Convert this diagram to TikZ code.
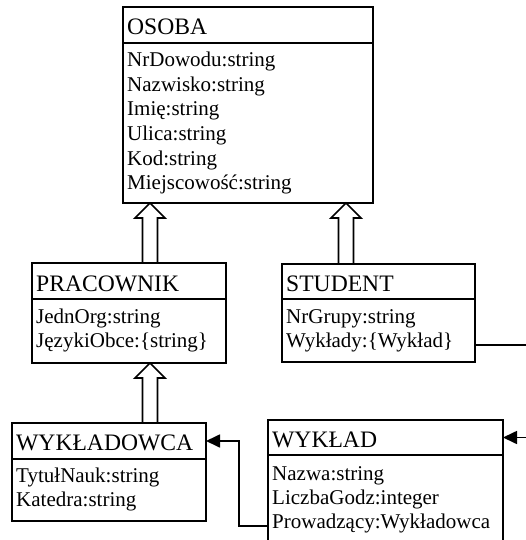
\documentclass[tikz,border=0pt]{standalone}
\usepackage{fontspec}
\setmainfont{Liberation Serif}
\usetikzlibrary{arrows.meta,calc}
\tikzset{
  classbox/.style={draw, line width=1.8pt, anchor=north west, inner sep=0pt, outer sep=0pt},
  ctitle/.style={anchor=base west, inner sep=0pt, font=\fontsize{23.6}{28}\selectfont},
  cattr/.style={anchor=base west, inner sep=0pt, font=\fontsize{21}{24}\selectfont},
  genline/.style={draw, line width=1.7pt, line join=miter},
  assoc/.style={draw, line width=1.7pt, -{Triangle[length=14pt,width=13pt]}},
}
% hollow generalisation arrow: #1 = foot on the subclass, #2 = tip on the superclass
\newcommand\inheritarrow[2]{%
  \draw[genline] ($(#1)+(-7.5,0)$) -- ($(#2)+(-7.5,15)$) -- ($(#2)+(-15,15)$) -- (#2)
    -- ($(#2)+(15,15)$) -- ($(#2)+(7.5,15)$) -- ($(#1)+(7.5,0)$);}
\begin{document}
\begin{tikzpicture}[x=1pt,y=-1pt]
\useasboundingbox (0,0) rectangle (526,540);
\clip (0,0) rectangle (526,540);

% OSOBA
\node[classbox, minimum width=250pt, minimum height=36pt] (osobaT) at (123,7) {};
\node[classbox, minimum width=250pt, minimum height=160pt] (osobaB) at (osobaT.south west) {};
\node[ctitle] (osobaN) at (127,35) {OSOBA};
\foreach \t [count=\i] in {NrDowodu:string, Nazwisko:string, Imię:string, Ulica:string, Kod:string, Miejscowość:string}
  \node[cattr] (osoba-a\i) at ({127},{67+24.5*(\i-1)}) {\t};

% PRACOWNIK
\node[classbox, minimum width=194pt, minimum height=36pt] (pracT) at (32,263) {};
\node[classbox, minimum width=194pt, minimum height=64pt] (pracB) at (pracT.south west) {};
\node[ctitle] (pracN) at (36,291) {PRACOWNIK};
\foreach \t [count=\i] in {JednOrg:string, JęzykiObce:\{string\}}
  \node[cattr] (prac-a\i) at ({36},{323+24.5*(\i-1)}) {\t};

% STUDENT
\node[classbox, minimum width=193pt, minimum height=35pt] (studT) at (282,264) {};
\node[classbox, minimum width=193pt, minimum height=63pt] (studB) at (studT.south west) {};
\node[ctitle] (studN) at (286,291) {STUDENT};
\foreach \t [count=\i] in {NrGrupy:string, Wykłady:\{Wykład\}}
  \node[cattr] (stud-a\i) at ({286},{323+24.5*(\i-1)}) {\t};

% WYKŁADOWCA
\node[classbox, minimum width=194pt, minimum height=36pt] (wdT) at (12,423) {};
\node[classbox, minimum width=194pt, minimum height=62pt] (wdB) at (wdT.south west) {};
\node[ctitle] (wdN) at (16,450) {WYKŁADOWCA};
\foreach \t [count=\i] in {TytułNauk:string, Katedra:string}
  \node[cattr] (wd-a\i) at ({16},{482+24*(\i-1)}) {\t};

% WYKŁAD
\node[classbox, minimum width=235pt, minimum height=35pt] (wykT) at (268,420) {};
\node[classbox, minimum width=235pt, minimum height=125pt] (wykB) at (wykT.south west) {};
\node[ctitle] (wykN) at (272,447) {WYKŁAD};
\foreach \t [count=\i] in {Nazwa:string, LiczbaGodz:integer, Prowadzący:Wykładowca}
  \node[cattr] (wyk-a\i) at ({272},{480+24*(\i-1)}) {\t};

% generalisations
\coordinate (g1b) at ([xshift=118pt]pracT.north west);
\coordinate (g1t) at (osobaB.south -| g1b);
\inheritarrow{g1b}{g1t}
\coordinate (g2b) at ([xshift=64pt]studT.north west);
\coordinate (g2t) at (osobaB.south -| g2b);
\inheritarrow{g2b}{g2t}
\coordinate (g3b) at ([xshift=138pt]wdT.north west);
\coordinate (g3t) at (pracB.south -| g3b);
\inheritarrow{g3b}{g3t}

% associations
\draw[assoc] (wykB.west |- wyk-a3.mid) -- ++(-29,0) |- (wdT.east);
\draw[assoc] (studB.east |- stud-a2.mid) -- ++(70,0) |- (wykT.east);
\end{tikzpicture}
\end{document}
